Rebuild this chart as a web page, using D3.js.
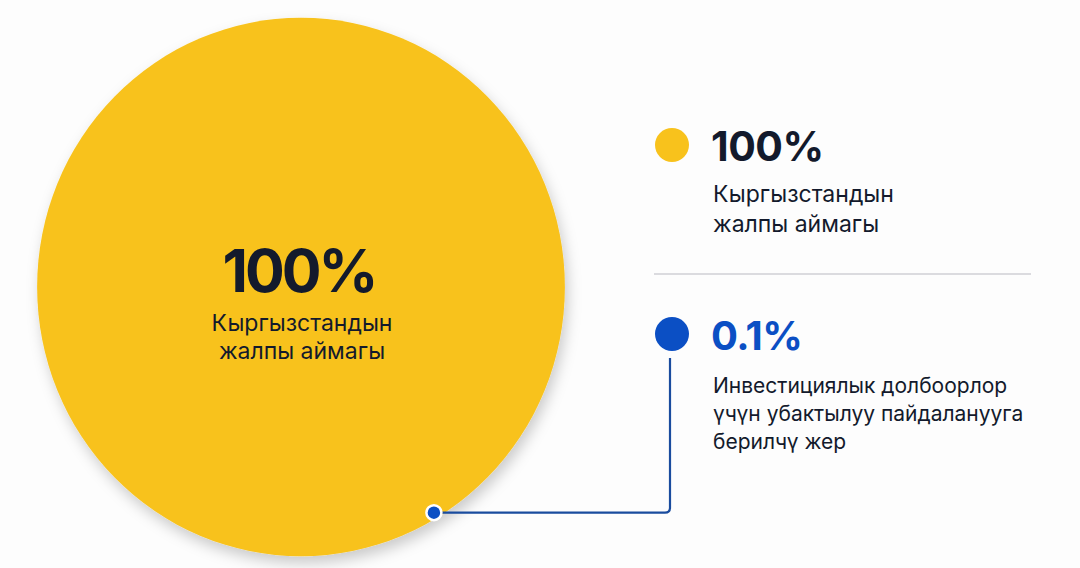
<!DOCTYPE html>
<html>
<head>
<meta charset="utf-8">
<script src="https://cdn.jsdelivr.net/npm/d3@7"></script>
<style>
  html, body { margin: 0; padding: 0; background: #fdfdfd; }
  svg { display: block; }
</style>
</head>
<body>
<svg id="chart" width="1080" height="568"></svg>
<script>
// ---- data ----
const categories = ["Кыргызстандын жалпы аймагы", "Инвестициялык долбоорлор үчүн убактылуу пайдаланууга берилчү жер"];
const shares = [100, 0.1];
const shareLabels = ["100%", "0.1%"];
const labelLines = [
  ["Кыргызстандын", "жалпы аймагы"],
  ["Инвестициялык долбоорлор", "үчүн убактылуу пайдаланууга", "берилчү жер"]
];
const colors = ["#f8c21c", "#0b4fc4"];
const markerAngleDeg = 149; // position of the 0.1% marker on the circle
const markerRadial = 0.978;

const svg = d3.select("#chart");
const font = "Inter, 'Noto Sans', sans-serif";
const dark = "#131a2c";

const defs = svg.append("defs");
const f = defs.append("filter").attr("id", "shadow").attr("x", "-20%").attr("y", "-20%").attr("width", "140%").attr("height", "140%");
f.append("feDropShadow").attr("dx", 3).attr("dy", 7).attr("stdDeviation", 7).attr("flood-color", "#000").attr("flood-opacity", 0.2);

// ---- big circle (pie of the total) ----
const cx = 301, cy = 287, R = 266, sx = 0.992, sy = 1.012;
const pie = d3.pie().sort(null).value(d => d);
const arc = d3.arc().innerRadius(0).outerRadius(R);
const g = svg.append("g").attr("transform", `translate(${cx},${cy}) scale(${sx},${sy})`);
g.selectAll("path").data(pie([shares[0]])).join("path")
  .attr("d", arc).attr("fill", colors[0]).attr("filter", "url(#shadow)");

// centre labels
svg.append("text").attr("x", cx - 2).attr("y", 292).attr("text-anchor", "middle")
  .attr("font-family", font).attr("font-weight", 700).attr("font-size", 59).attr("fill", dark)
  .attr("letter-spacing", -3).text(shareLabels[0]);
labelLines[0].forEach((t, i) => {
  svg.append("text").attr("x", cx + 1).attr("y", 331 + i * 28).attr("text-anchor", "middle")
    .attr("font-family", font).attr("font-weight", 400).attr("font-size", 23).attr("fill", dark).text(t);
});

// ---- legend ----
const lx = 672, tx = 713;
const legendY = [145, 334];
const valueSize = [41, 40];
const bodySize = [23, 21];
const bodyBase = [202, 393];
const bodyStep = [30, 28];

legendY.forEach((y, i) => {
  svg.append("circle").attr("cx", lx).attr("cy", y).attr("r", 17).attr("fill", colors[i]);
  svg.append("text").attr("x", tx - 2).attr("y", y + 16)
    .attr("font-family", font).attr("font-weight", 700).attr("font-size", valueSize[i])
    .attr("letter-spacing", -0.5)
    .attr("fill", i === 0 ? dark : colors[1]).text(shareLabels[i]);
  labelLines[i].forEach((t, j) => {
    svg.append("text").attr("x", tx).attr("y", bodyBase[i] + j * bodyStep[i])
      .attr("font-family", font).attr("font-weight", 400).attr("font-size", bodySize[i]).attr("fill", dark).text(t);
  });
});

// divider
svg.append("line").attr("x1", 654).attr("x2", 1031).attr("y1", 274).attr("y2", 274)
  .attr("stroke", "#cfcfd4").attr("stroke-width", 1.5);

// ---- connector from marker to 0.1% legend ----
const a = markerAngleDeg * Math.PI / 180;
const mx = cx + R * markerRadial * sx * Math.sin(a), my = cy - R * markerRadial * sy * Math.cos(a);
const vx = 670, hy = my, rc = 5;
svg.append("path")
  .attr("d", `M${mx},${hy} L${vx - rc},${hy} Q${vx},${hy} ${vx},${hy - rc} L${vx},${legendY[1] + 24}`)
  .attr("fill", "none").attr("stroke", "#1a4c9e").attr("stroke-width", 2.2);
svg.append("circle").attr("cx", mx).attr("cy", my).attr("r", 7.5)
  .attr("fill", colors[1]).attr("stroke", "#fff").attr("stroke-width", 2.5);
</script>
</body>
</html>
